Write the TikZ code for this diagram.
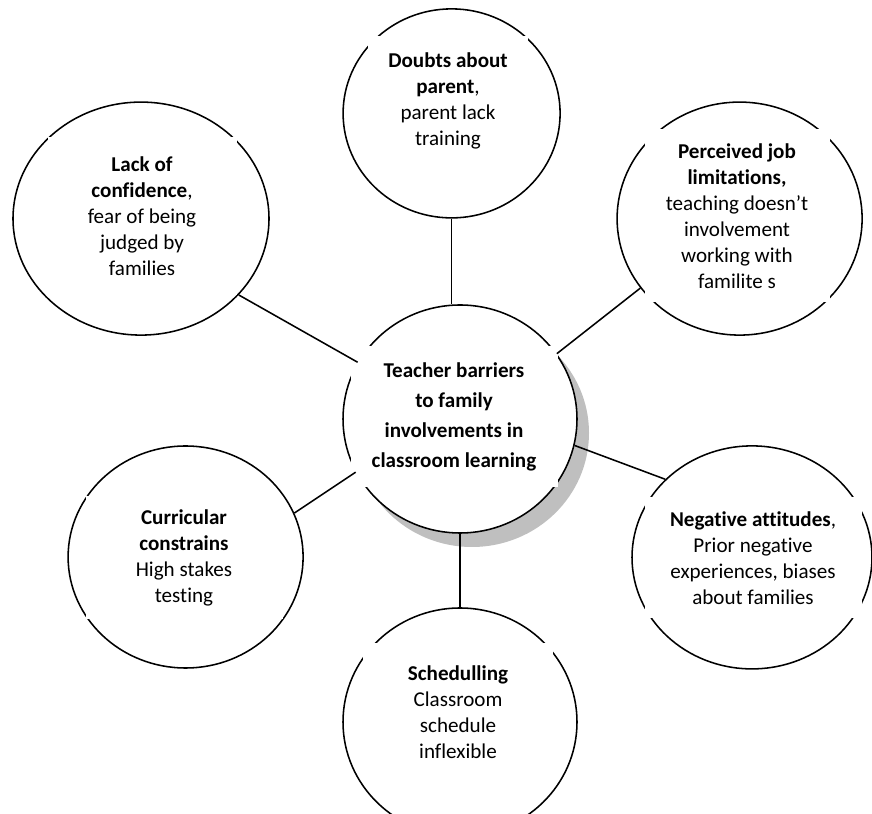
\documentclass[tikz,border=0pt]{standalone}
\usepackage{fontspec}
\setmainfont{Carlito}[Ligatures=NoCommon]
\usetikzlibrary{shapes.geometric}
\begin{document}
\begin{tikzpicture}[
  bubble/.style={draw, ellipse, line width=1.1pt, fill=white, inner sep=0pt},
  textbox/.style={fill=white, inner sep=0pt, align=center, font=\fontsize{15}{18.5}\selectfont},
  link/.style={line width=1.1pt}
]
\useasboundingbox (0,0) rectangle (21.8,20.325);

%Shadow of the middle bubble
\fill[black!25] (11.8,9.5) ellipse (2.925 and 2.85);

%Bubbles
\node[bubble, minimum width=5.85cm, minimum height=5.7cm] (hub) at (11.5,9.85) {};
\node[bubble, minimum width=5.425cm, minimum height=5.225cm] (doubts) at (11.29,17.49) {};
\node[bubble, minimum width=6.4cm, minimum height=5.825cm] (lack) at (3.525,14.86) {};
\node[bubble, minimum width=6.125cm, minimum height=5.825cm] (jobs) at (18.49,14.86) {};
\node[bubble, minimum width=5.875cm, minimum height=5.55cm] (curric) at (4.64,6.4) {};
\node[bubble, minimum width=6cm, minimum height=5.575cm] (attitudes) at (18.8,6.39) {};
\node[bubble, minimum width=5.85cm, minimum height=5.7cm] (sched) at (11.5,2.275) {};

%Texts (white boxes on top of the outlines)
\node[textbox, minimum width=5.175cm, minimum height=3.525cm, font=\fontsize{15}{21.3}\selectfont\bfseries] (hubtext) at (11.35,9.9)
  {Teacher barriers\\ to family\\ involvements in\\ classroom learning};
\node[textbox, minimum width=4cm, minimum height=3.25cm] (doubtstext) at (11.2,17.8)
  {\textbf{Doubts about}\\ \textbf{parent},\\ parent lack\\ training};
\node[textbox, minimum width=4.725cm, minimum height=3.95cm] (lacktext) at (3.55,14.925)
  {\textbf{Lack of}\\ \textbf{confidence},\\ fear of being\\ judged by\\ families};
\node[textbox, minimum width=4.625cm, minimum height=4.325cm] (jobstext) at (18.425,14.925)
  {\textbf{Perceived job}\\ \textbf{limitations,}\\ teaching doesn’t\\ involvement\\ working with\\ familite s};
\node[textbox, minimum width=4.925cm, minimum height=3.075cm] (currictext) at (4.6,6.375)
  {\textbf{Curricular}\\ \textbf{constrains}\\ High stakes\\ testing};
\node[textbox, minimum width=5.425cm, minimum height=3.025cm] (attitudestext) at (18.825,6.375)
  {\textbf{Negative attitudes},\\ Prior negative\\ experiences, biases\\ about families};
\node[textbox, minimum width=4.75cm, minimum height=3.425cm] (schedtext) at (11.45,2.525)
  {\textbf{Schedulling}\\ Classroom\\ schedule\\ inflexible};

%Links to the middle
\draw[link] (doubts.south) -- (doubts.south |- hub.north);
\draw[link] (lack.-38.7) -- (hub.151.8);
\draw[link] (jobs.-145) -- (hub.34.6);
\draw[link] (curric.22.2) -- (hub.207.4);
\draw[link] (attitudes.138) -- (hub.-13.2);
\draw[link] (hub.south) -- (sched.north);
\end{tikzpicture}
\end{document}
